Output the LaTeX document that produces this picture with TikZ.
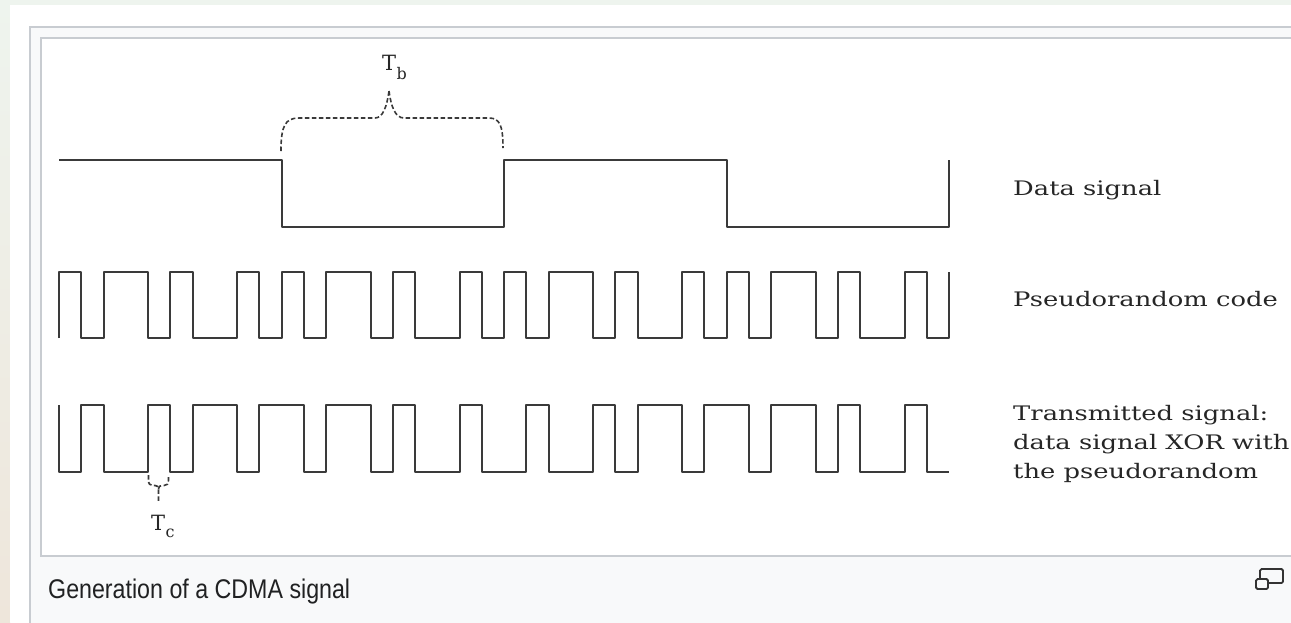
\documentclass[tikz,border=0pt]{standalone}
\usepackage{fontspec}
\setmainfont{DejaVu Serif}
\newfontfamily\capfont{Liberation Sans}
\definecolor{framegray}{HTML}{C8CCD1}
\definecolor{figbg}{HTML}{F8F9FA}
\definecolor{captext}{HTML}{202122}
\definecolor{sigcol}{HTML}{3A3A3A}
\definecolor{topbg}{HTML}{EEF4EE}
\definecolor{leftbg}{HTML}{EEE6DB}
\newcommand{\widelbl}[1]{\scalebox{1.29}[1]{\fontsize{20}{20}\selectfont #1}}
\begin{document}
\begin{tikzpicture}[x=1pt,y=-1pt,
  sig/.style={line width=2pt, draw=sigcol, line join=round},
  bracedash/.style={line width=1.6pt, draw=sigcol, dash pattern=on 4.5pt off 2.5pt},
  frameline/.style={line width=1.8pt, draw=framegray},
  lbl/.style={anchor=base west, inner sep=0pt, text=black!85},
  tlbl/.style={anchor=base west, inner sep=0pt, text=black!85},
  iconline/.style={line width=1.8pt, draw=black!80, rounded corners=1.5pt}]
\useasboundingbox (0,0) rectangle (1291,622);
\clip (0,0) rectangle (1291,622);
% page background
\fill[leftbg] (0,0) rectangle (1291,622);
\shade[top color=topbg, bottom color=leftbg] (0,0) rectangle (10,622);
\fill[topbg] (10,0) rectangle (1291,5);
\fill[white] (10,5) rectangle (1291,622);
% figure frames
\draw[frameline, fill=figbg] (30,27) rectangle (1320,660);
\draw[frameline, fill=white] (41,38) rectangle (1320,556);
% waveforms (x in chips)
\begin{scope}[shift={(59,0)}, x=22.25pt]
  % data signal
  \draw[sig] (0,160) -- (10,160) -- (10,227) -- (20,227) -- (20,160) -- (30,160) -- (30,227) -- (40,227) -- (40,160);
  % pseudorandom code
  \draw[sig] (0,338) \foreach \o in {0,10,20,30}{
     -- (\o,338) -- (\o,272) -- (\o+1,272) -- (\o+1,338) -- (\o+2,338) -- (\o+2,272)
     -- (\o+4,272) -- (\o+4,338) -- (\o+5,338) -- (\o+5,272) -- (\o+6,272) -- (\o+6,338)
     -- (\o+8,338) -- (\o+8,272) -- (\o+9,272) -- (\o+9,338)} -- (40,338) -- (40,272);
  % transmitted signal
  \draw[sig] (0,405) -- (0,472) -- (1,472) -- (1,405) -- (2,405) -- (2,472) -- (4,472) -- (4,405)
     -- (5,405) -- (5,472) -- (6,472) -- (6,405) -- (8,405) -- (8,472) -- (9,472) -- (9,405)
     -- (11,405) -- (11,472) -- (12,472) -- (12,405) -- (14,405) -- (14,472) -- (15,472) -- (15,405)
     -- (16,405) -- (16,472) -- (18,472) -- (18,405) -- (19,405) -- (19,472) -- (21,472) -- (21,405)
     -- (22,405) -- (22,472) -- (24,472) -- (24,405) -- (25,405) -- (25,472) -- (26,472) -- (26,405)
     -- (28,405) -- (28,472) -- (29,472) -- (29,405) -- (31,405) -- (31,472) -- (32,472) -- (32,405)
     -- (34,405) -- (34,472) -- (35,472) -- (35,405) -- (36,405) -- (36,472) -- (38,472) -- (38,405)
     -- (39,405) -- (39,472) -- (40,472);
\end{scope}
% T_b brace
\draw[bracedash] (281,151) .. controls (281,126) and (285,118) .. (299,118) -- (375,118)
   .. controls (383,118) and (387,106) .. (389,91);
\draw[bracedash] (389,91) .. controls (391,106) and (395,118) .. (404,118) -- (489,118)
   .. controls (500,118) and (503,126) .. (503,148);
\node[tlbl] (tb) at (382,70) {\fontsize{21}{21}\selectfont T\kern0.5pt\raisebox{-9pt}{\fontsize{16}{16}\selectfont b}};
% T_c brace
\draw[bracedash] (148.5,475) -- (148.5,480) .. controls (148.5,484) and (150,485.5) .. (153,485.5) -- (155,485.5)
   .. controls (157,485.5) and (158.5,486.5) .. (158.5,489) -- (158.5,503);
\draw[bracedash] (158.5,489) .. controls (158.5,486.5) and (160,485.5) .. (162,485.5) -- (164,485.5)
   .. controls (167,485.5) and (168.5,484) .. (168.5,480) -- (168.5,475);
\node[tlbl] (tc) at (151,530) {\fontsize{21}{21}\selectfont T\kern0.5pt\raisebox{-7pt}{\fontsize{16}{16}\selectfont c}};
% right labels
\node[lbl] (ldata) at (1013,195) {\widelbl{Data signal}};
\node[lbl] (lpn) at (1013,306) {\widelbl{Pseudorandom code}};
\node[lbl] (ltx1) at (1013,420) {\widelbl{Transmitted signal:}};
\node[lbl] (ltx2) at (1013,449) {\widelbl{data signal XOR with}};
\node[lbl] (ltx3) at (1013,478) {\widelbl{the pseudorandom}};
% caption
\node[anchor=base west, inner sep=0pt, text=captext] (cap) at (48,598) {\scalebox{0.86}[1]{\capfont\fontsize{27}{27}\selectfont Generation of a CDMA signal}};
% enlarge icon
\draw[iconline] (1260,569) rectangle (1283,583);
\draw[iconline, fill=figbg] (1256,579) rectangle (1268,589);
\end{tikzpicture}
\end{document}
